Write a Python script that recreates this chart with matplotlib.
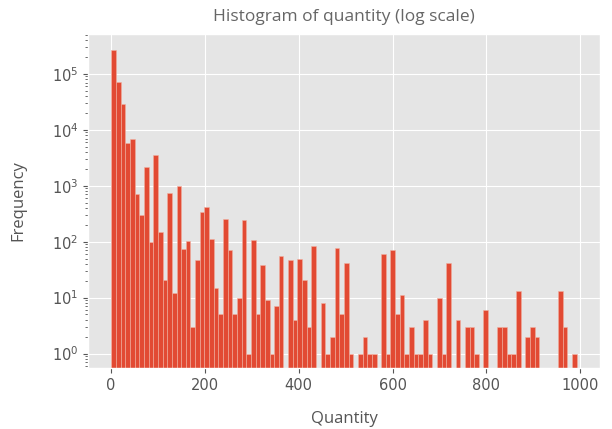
import numpy as np
import matplotlib
matplotlib.use("Agg")
import matplotlib.pyplot as plt

# counts per bin (100 bins between min and max quantity)
qty_min = 1
qty_max = 992
counts = [
    265000, 72000, 29000, 5800, 6900, 710, 300, 2200, 97, 3500,
    147, 21, 750, 12, 1000, 74, 104, 3, 47, 333,
    410, 114, 15, 5, 250, 71, 5, 10, 244, 1,
    107, 5, 39, 9, 1, 7, 56, 0, 47, 4,
    50, 21, 3, 85, 0, 8, 1, 2, 78, 5,
    42, 1, 0, 1, 2, 1, 1, 0, 60, 1,
    72, 5, 11, 1, 3, 1, 1, 4, 1, 0,
    10, 1, 41, 0, 4, 0, 3, 3, 1, 0,
    6, 0, 0, 3, 3, 1, 1, 13, 0, 2,
    3, 2, 0, 0, 0, 0, 13, 3, 0, 1,
]
xticks = [0, 200, 400, 600, 800, 1000]

plt.style.use("ggplot")

edges = np.linspace(qty_min, qty_max, len(counts) + 1)
centers = (edges[:-1] + edges[1:]) / 2

fig = plt.figure(figsize=(6.12, 4.29), dpi=100)
ax = fig.add_axes([0.144, 0.142, 0.836, 0.779])
ax.hist(centers, bins=edges, weights=counts, log=True,
        color="#E24A33", edgecolor="#F0B0A0", linewidth=0.4)

ax.set_ylim(0.55, 5.2e5)
ax.set_xticks(xticks)
ax.tick_params(labelsize=10.5)
ax.set_title("Histogram of quantity (log scale)", family="Open Sans",
             fontsize=12.5, color="#666666", pad=9)
ax.set_xlabel("Quantity", family="Open Sans", fontsize=12, color="#555555", labelpad=13)
ax.set_ylabel("Frequency", family="Open Sans", fontsize=12, color="#555555", labelpad=18)

fig.savefig("out.png", dpi=100)
